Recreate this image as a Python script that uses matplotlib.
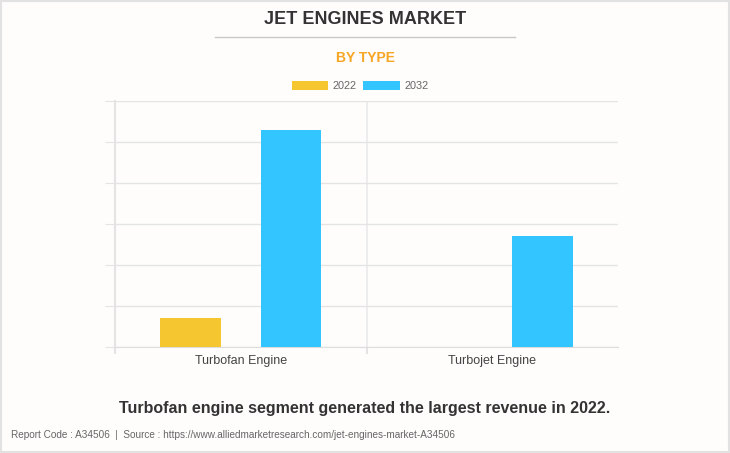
import numpy as np
import matplotlib.pyplot as plt
from matplotlib.patches import Rectangle

plt.rcParams['font.family'] = ['Liberation Sans', 'DejaVu Sans']

categories = ['Turbofan Engine', 'Turbojet Engine']
years = ['2022', '2032']
values_2022 = [7.1, 0.0]
values_2032 = [52.9, 27.1]
colors = ['#F5C630', '#32C5FF']

fig = plt.figure(figsize=(7.3, 4.53), dpi=100)
fig.patch.set_facecolor('#FEFDFC')

# light border round the card
fig.add_artist(Rectangle((0.001, 0.002), 0.997, 0.995, transform=fig.transFigure,
                         fill=False, edgecolor='#E2E2E2', linewidth=1.5))

ax = fig.add_axes([115 / 730, 106 / 453, 503 / 730, 246 / 453])
ax.set_facecolor('#FEFDFC')

x = np.arange(len(categories))
w = 0.24
ax.bar(x - 0.2, values_2022, w, color=colors[0], label=years[0], zorder=3)
ax.bar(x + 0.2, values_2032, w, color=colors[1], label=years[1], zorder=3)

ax.set_xlim(-0.5, 1.5)
ax.set_ylim(0, 60)
ax.set_yticks(np.arange(0, 61, 10))
ax.set_yticklabels([])
ax.yaxis.grid(True, color='#E4E4E4', linewidth=1, zorder=0)
ax.tick_params(axis='y', length=7.2, color='#E4E4E4')

# category boundaries drawn as long ticks
ax.set_xticks([-0.5, 0.5])
ax.set_xticklabels([])
ax.set_xticks(x, minor=True)
ax.set_xticklabels(categories, minor=True, fontsize=9, color='#444444')
ax.tick_params(axis='x', which='major', length=5, color='#E4E4E4', width=1.5)
ax.tick_params(axis='x', which='minor', length=0, pad=6)
ax.axvline(0.5, color='#EAEAEA', linewidth=1.2, zorder=1)

for s in ['top', 'right']:
    ax.spines[s].set_visible(False)
ax.spines['left'].set_color('#E4E4E4')
ax.spines['left'].set_linewidth(1.5)
ax.spines['bottom'].set_color('#DDDDDD')

fig.text(0.5, 1 - 20 / 453, 'JET ENGINES MARKET', ha='center', va='center',
         fontsize=13, fontweight='bold', color='#333333')
fig.add_artist(plt.Line2D([215 / 730, 515 / 730], [1 - 37 / 453] * 2,
                          color='#C8C8C8', linewidth=1))
fig.text(0.5, 1 - 58 / 453, 'BY TYPE', ha='center', va='center',
         fontsize=10, fontweight='bold', color='#F6A623')

ax.legend(loc='lower center', bbox_to_anchor=(0.5 + (360 - 366.5) / 503, 1.0),
          ncol=2, frameon=False, fontsize=7.8, labelcolor='#666666',
          handlelength=3.4, handleheight=1.0, columnspacing=0.6, handletextpad=0.4,
          borderaxespad=0.5)

fig.text(0.5, 1 - 408 / 453, 'Turbofan engine segment generated the largest revenue in 2022.',
         ha='center', va='center', fontsize=11.5, fontweight='bold', color='#333333')
fig.text(11 / 730, 1 - 435 / 453,
         'Report Code : A34506  |  Source : https://www.alliedmarketresearch.com/jet-engines-market-A34506',
         ha='left', va='center', fontsize=7.2, color='#666666')

fig.savefig('out.png', dpi=100, facecolor=fig.get_facecolor())
